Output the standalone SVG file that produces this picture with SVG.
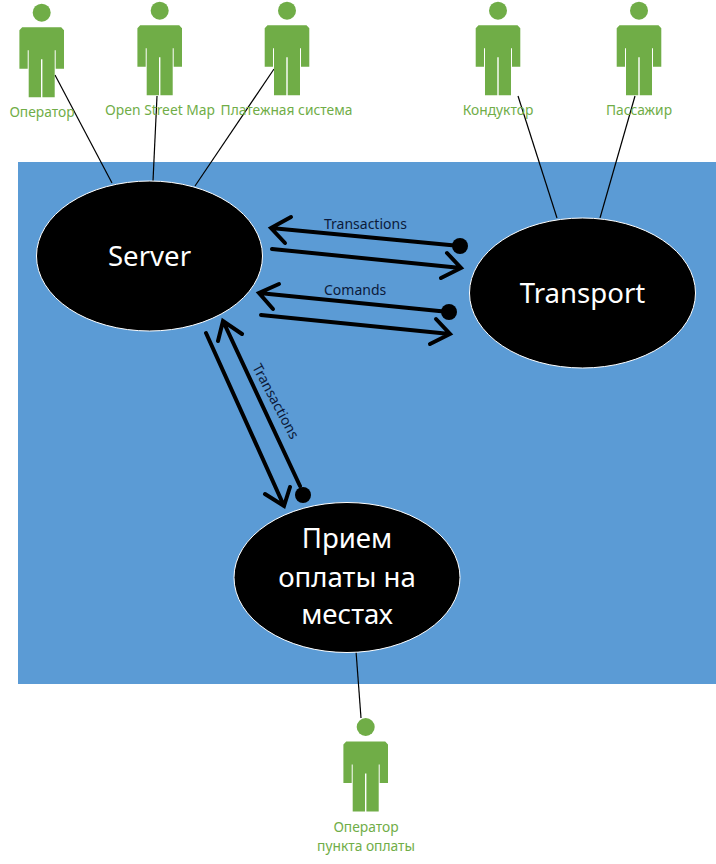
<svg xmlns="http://www.w3.org/2000/svg" xmlns:xlink="http://www.w3.org/1999/xlink" width="716" height="864" viewBox="0 0 716 864">
<style>
text{font-family:"Noto Sans","Open Sans","DejaVu Sans",sans-serif}
.act{fill:#70ad47}
.lbl{fill:#70ad47;font-size:13.8px;text-anchor:middle}
.el{fill:#000;stroke:#fff;stroke-width:1}
.big{fill:#fff;font-size:27.600px;text-anchor:middle}
.small{fill:#0b1a3a;font-size:14px}
.ln{stroke:#000;stroke-width:1.2;fill:none}
.ar{stroke:#000;stroke-width:4;fill:none;stroke-linecap:round;stroke-linejoin:miter}
</style>
<defs>
<g id="man">
<circle class="act" cx="0" cy="0" r="9"/>
<path class="act" d="M-19.5,14.5 H19.5 L22.3,17.5 V56 H14 V37.5 H13 V84.500 H0.700 V46.500 H-0.700 V84.500 H-13 V37.500 H-14 V56 H-22.300 V17.500 Z"/>
</g>
</defs>
<rect id="bg" x="18" y="162" width="698" height="522" fill="#5b9bd5"/>
<g id="connectors">
<path class="ln" d="M55,75 L112,183"/>
<path class="ln" d="M157,96 L153,181"/>
<path class="ln" d="M274,69 L195,186"/>
<path class="ln" d="M518,96 L557,218"/>
<path class="ln" d="M635,96 L600,218"/>
<path class="ln" d="M356,651 L361,718"/>
<path class="ar" d="M460,246 L271,228 M291,217 L271,228 L285,243"/>
<circle cx="460" cy="246" r="8"/>
<path class="ar" d="M272,249 L461,268 M447,253 L461,268 L441,278"/>
<path class="ar" d="M449,312 L259,293 M279,284 L259,293 L273,309"/>
<circle cx="449" cy="312" r="8"/>
<path class="ar" d="M261,315 L450,334 M436,319 L450,334 L430,344"/>
<path class="ar" d="M300,486 L223,321 M218,341 L223,321 L242,334"/>
<circle cx="303" cy="495" r="8"/>
<path class="ar" d="M206,333 L284,506 M265,494 L284,506 L290,487"/>
</g>
<g id="op"><use xlink:href="#man" x="41.700" y="12.700"/><text class="lbl" x="42" y="117">Оператор</text></g>
<g id="osm"><use xlink:href="#man" x="159.700" y="10.700"/><text class="lbl" x="160" y="115">Open Street Map</text></g>
<g id="pay"><use xlink:href="#man" x="287" y="10.700"/><text class="lbl" x="286.500" y="115">Платежная система</text></g>
<g id="cond"><use xlink:href="#man" x="498" y="10.700"/><text class="lbl" x="498" y="115">Кондуктор</text></g>
<g id="pass"><use xlink:href="#man" x="639" y="10.700"/><text class="lbl" x="639" y="115">Пассажир</text></g>
<g id="op2"><use xlink:href="#man" x="365.700" y="727"/><text class="lbl" x="366" y="832">Оператор</text><text class="lbl" x="366" y="851">пункта оплаты</text></g>
<g id="server"><ellipse class="el" cx="149.500" cy="256" rx="113" ry="75"/><text class="big" x="149.500" y="266">Server</text></g>
<g id="transport"><ellipse class="el" cx="582.500" cy="293" rx="113" ry="75"/><text class="big" x="582.500" y="303">Transport</text></g>
<g id="pos"><ellipse class="el" cx="347" cy="577.500" rx="113" ry="75"/><text class="big" x="347" y="548">Прием</text><text class="big" x="347" y="587">оплаты на</text><text class="big" x="347" y="624">местах</text></g>
<g id="labels">
<text class="small" x="324" y="228.500">Transactions</text>
<text class="small" x="324" y="294.500">Comands</text>
<text class="small" transform="translate(252,367) rotate(62)">Transactions</text>
</g>
</svg>
